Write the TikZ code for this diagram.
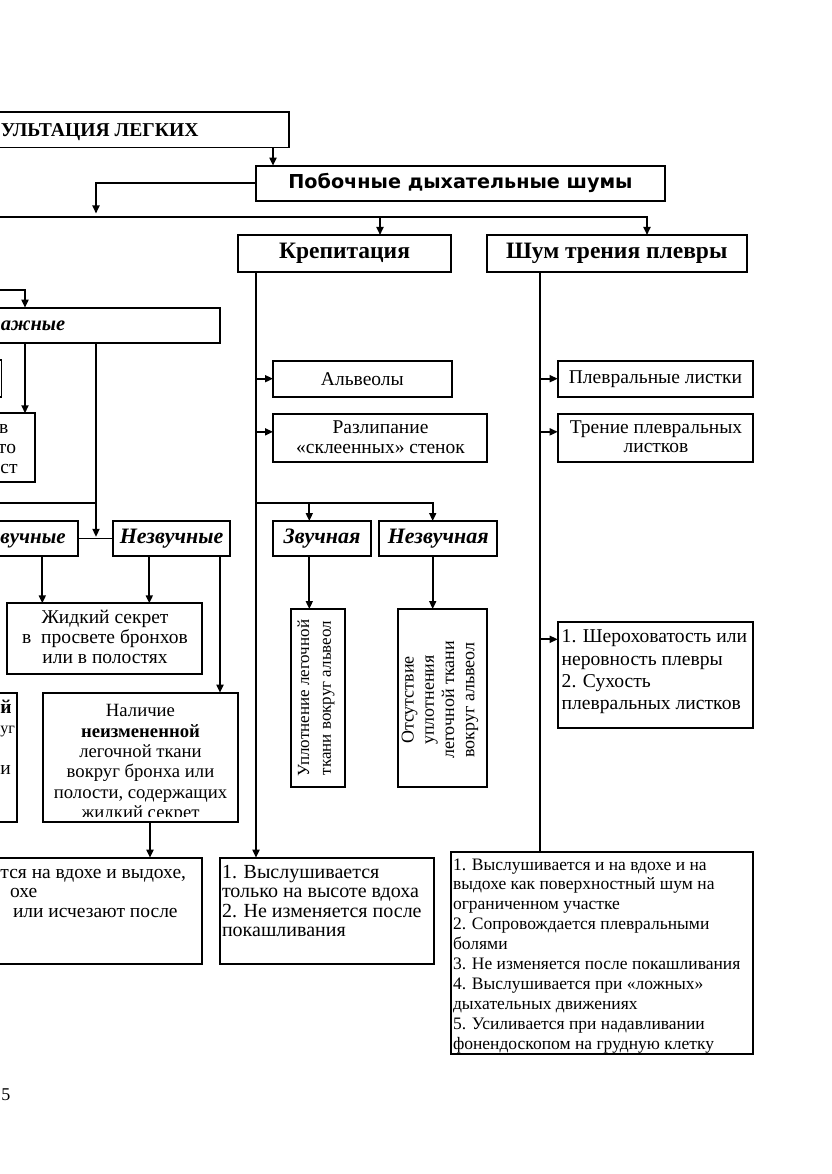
\documentclass[tikz,border=0pt]{standalone}
\usepackage{fontspec}
\setmainfont{Liberation Serif}
\newfontfamily\pobfont{DejaVu Sans}
\usetikzlibrary{arrows.meta}
\newcommand\myfs[2]{\fontsize{#1}{#2}\selectfont}
\begin{document}
\begin{tikzpicture}[x=1pt,y=-1pt,
  box/.style={draw, line width=1.7pt, inner sep=0pt, outer sep=0pt},
  conn/.style={line width=1.7pt},
  arr/.style={conn, -{Triangle[length=8pt,width=7pt]}},
  txt/.style={inner sep=0pt, outer sep=0pt},
  body/.style={font=\myfs{19.5}{20}},
  bi/.style={font=\bfseries\itshape\myfs{22}{22}},
]
\useasboundingbox (0,0) rectangle (831,1174);
\clip (0,0) rectangle (831,1174);

% column helpers
\coordinate (x25) at (25,0);
\coordinate (x42) at (42.3,0);
\coordinate (x96) at (96,0);
\coordinate (x149) at (149.3,0);
\coordinate (x150) at (150,0);
\coordinate (x220) at (220,0);
\coordinate (x256) at (256,0);
\coordinate (x273) at (273,0);
\coordinate (x309) at (309.3,0);
\coordinate (x380) at (380,0);
\coordinate (x432) at (432.7,0);
\coordinate (x540) at (540,0);
\coordinate (x647) at (647,0);
\coordinate (xl) at (0.5,0);

% ---------- boxes ----------
\node[box, minimum width=299pt, minimum height=35.5pt] (title) at (139.5,129.75) {};
\node[txt, anchor=base west, font=\bfseries\myfs{19.6}{20}] (titlet) at (1,136.7) {УЛЬТАЦИЯ ЛЕГКИХ};

\node[box, minimum width=409pt, minimum height=35.3pt, font=\pobfont\bfseries\myfs{19.2}{20}] (pob) at (460.5,183.35) {Побочные дыхательные шумы};

\node[box, minimum width=213pt, minimum height=37pt, font=\bfseries\myfs{23.5}{25}] (krep) at (344.5,253.5) {Крепитация};
\node[box, minimum width=260pt, minimum height=37pt, font=\bfseries\myfs{23.5}{25}] (shum) at (616.7,253.5) {Шум трения плевры};

\node[box, body, minimum width=178.7pt, minimum height=36pt] (alv) at (362.35,378.7) {Альвеолы};
\node[box, minimum width=214pt, minimum height=47.7pt] (raz) at (380,437.85) {};
\node[txt, body, anchor=north, align=center] (razt) at (380.5,420.4) {Разлипание\\«склеенных» стенок};

\node[box, body, minimum width=195.6pt, minimum height=36pt] (plist) at (655.5,378.7) {Плевральные листки};
\node[box, minimum width=195.6pt, minimum height=47.7pt] (tren) at (655.5,437.85) {};
\node[txt, anchor=north, align=center, font=\myfs{19.5}{19}] (trent) at (656,420.4) {Трение плевральных\\листков};

\node[box, minimum width=195.6pt, minimum height=106pt] (sher) at (655.5,674.7) {};
\node[txt, anchor=north west, align=left, font=\myfs{19.6}{22.3}] (shert) at (561.7,630) {1. Шероховатость или\\неровность плевры\\2. Сухость\\плевральных листков};

\node[box, bi, minimum width=97.4pt, minimum height=34.7pt] (zv) at (322,538.35) {Звучная};
\node[box, bi, minimum width=118pt, minimum height=34.7pt] (nezv) at (438.3,538.35) {Незвучная};

\node[box, minimum width=54.3pt, minimum height=177.7pt] (uplo) at (317.85,697.85) {};
\node[txt, rotate=90, align=center, font=\myfs{17}{21.7}] (uplot) at (316,698) {Уплотнение легочной\\ткани вокруг альвеол};
\node[box, minimum width=89pt, minimum height=177.7pt] (otsu) at (442.8,697.85) {};
\node[txt, rotate=90, align=center, font=\myfs{18}{20.3}] (otsut) at (440,700) {Отсутствие\\уплотнения\\легочной ткани\\вокруг альвеол};

\node[box, minimum width=214pt, minimum height=106.6pt] (vys1) at (327,911) {};
\node[txt, anchor=north west, align=left, font=\myfs{20}{19.5}] (vys1t) at (222,864.8) {1. Выслушивается\\только на высоте вдоха\\2. Не изменяется после\\покашливания};

\node[box, minimum width=302.3pt, minimum height=202pt] (rbot) at (602.15,953.3) {};
\node[txt, anchor=north west, align=left, font=\myfs{17.5}{19.9}] (rbott) at (453,858.5) {1. Выслушивается и на вдохе и на\\выдохе как поверхностный шум на\\ограниченном участке\\2. Сопровождается плевральными\\болями\\3. Не изменяется после покашливания\\4. Выслушивается при «ложных»\\дыхательных движениях\\5. Усиливается при надавливании\\фонендоскопом на грудную клетку};

% left part
\node[box, minimum width=230pt, minimum height=35pt] (vl) at (105,325.2) {};
\node[txt, anchor=base west, font=\bfseries\itshape\myfs{20.5}{22}] (vlt) at (0.8,330) {ажные};
\node[box, minimum width=21.5pt, minimum height=36.7pt] (cutb) at (-9.25,378.35) {};
\node[box, minimum width=45pt, minimum height=68.4pt] (lsec) at (12.5,447.5) {};
\node[txt, body, anchor=base east] (lsec1) at (8.3,433) {в};
\node[txt, body, anchor=base east] (lsec2) at (16,453) {то};
\node[txt, body, anchor=base west] (lsec3) at (0.5,473) {ст};

\node[box, minimum width=88.3pt, minimum height=34.7pt] (zvs) at (34.15,538.35) {};
\node[box, bi, minimum width=116.7pt, minimum height=34.7pt] (nzs) at (171.65,538.35) {Незвучные};
\node[txt, anchor=base west, font=\bfseries\itshape\myfs{21}{22}] (zvst) at (xl |- nzs.base) {вучные};

\node[box, minimum width=195pt, minimum height=71pt] (zhid) at (104.8,638.8) {};
\node[txt, anchor=north, align=center, font=\myfs{19.5}{20}] (zhidt) at (105,610.4) {Жидкий секрет\\в\ \ просвете бронхов\\или в полостях};

\node[box, minimum width=195.6pt, minimum height=129.6pt] (nal) at (140.5,757.5) {};
\begin{scope}
  \clip (nal.north west) rectangle ([yshift=6pt]nal.south east);
  \node[txt, anchor=north, align=center, font=\myfs{18.7}{20.4}] (nalt) at (140.5,704.5) {Наличие\\\textbf{неизмененной}\\легочной ткани\\вокруг бронха или\\полости, содержащих\\жидкий секрет};
\end{scope}

\node[box, minimum width=26.7pt, minimum height=129pt] (lnal) at (3.35,757.2) {};
\node[txt, anchor=base west, font=\bfseries\myfs{19.5}{20}] (lnal1) at (0.5,713) {й};
\node[txt, anchor=base west, font=\myfs{16}{20}] (lnal2) at (0.5,733.4) {уг};
\node[txt, body, anchor=base west] (lnal4) at (0.5,774.2) {и};

\node[box, minimum width=211.7pt, minimum height=106.6pt] (lbot) at (95.85,911) {};
\node[txt, font=\myfs{19.5}{20}, anchor=base west] (lbot1) at (0.5,878) {тся на вдохе и выдохе,};
\node[txt, font=\myfs{19.5}{20}, anchor=base west] (lbot2) at (10,897.5) {охе};
\node[txt, font=\myfs{19.5}{20}, anchor=base west] (lbot3) at (13,917) {или исчезают после};

\node[txt, anchor=base west, font=\myfs{18}{20}] (page) at (1.5,1100) {5};

% ---------- connectors ----------
\coordinate (c214) at (0,213.5);
\coordinate (hl) at (-5,216.7);
\coordinate (k0a) at (-5,290);
\coordinate (k0b) at (-5,503);
\coordinate (kb) at (256,503);
\coordinate (razin) at ([yshift=6pt]raz.west);
\coordinate (trenin) at ([yshift=6pt]tren.west);
\coordinate (sherin) at ([yshift=35.4pt]sher.west);

\draw[arr] (title.south -| x273) -- (pob.north -| x273);
\draw[arr] (pob.west) -| (x96 |- c214);
\draw[arr] (hl) -| (shum.north -| x647);
\draw[arr] (hl -| x380) -- (krep.north -| x380);

\draw[arr] (krep.south -| x256) -- (vys1.north -| x256);
\draw[arr] (alv.west -| x256) -- (alv.west);
\draw[arr] (razin -| x256) -- (razin);
\draw[arr] (kb) -| (nezv.north -| x432);
\draw[arr] (x309 |- kb) -- (zv.north -| x309);
\draw[arr] (zv.south -| x309) -- (uplo.north -| x309);
\draw[arr] (nezv.south -| x432) -- (otsu.north -| x432);

\draw[conn] (shum.south -| x540) -- (rbot.north -| x540);
\draw[arr] (plist.west -| x540) -- (plist.west);
\draw[arr] (trenin -| x540) -- (trenin);
\draw[arr] (sherin -| x540) -- (sherin);

\draw[arr] (k0a) -| (vl.north -| x25);
\draw[arr] (vl.south -| x25) -- (lsec.north -| x25);
\draw[arr, shorten >=1.5pt] (vl.south -| x96) -- (zvs.east -| x96);
\draw[conn] (k0b) -- (x96 |- k0b);
\draw[conn] (zvs.east) -- (nzs.west);
\draw[arr] (zvs.south -| x42) -- (zhid.north -| x42);
\draw[arr] (nzs.south -| x149) -- (zhid.north -| x149);
\draw[arr] (nzs.south -| x220) -- (nal.north -| x220);
\draw[arr] (nal.south -| x150) -- (lbot.north -| x150);
\end{tikzpicture}
\end{document}
